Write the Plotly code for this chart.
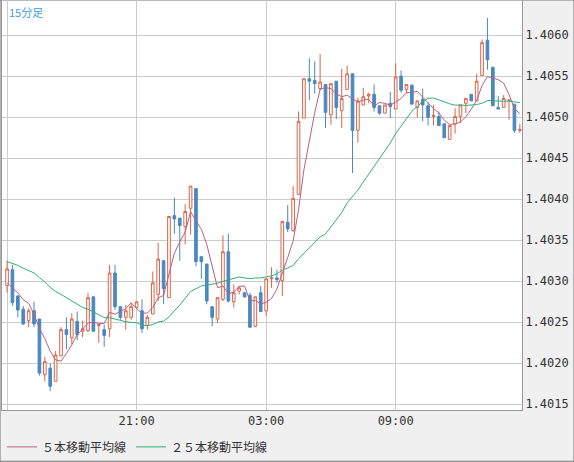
import plotly.graph_objs as go
import pandas as pd

# 15-minute candles, prices given as pips above 1.4000
times = pd.date_range('2024-01-01 15:00', periods=96, freq='15min')

open_pips = [29.5, 31.4, 28.2, 26.6, 25.2, 26.4, 25.4, 18.6, 19.4, 17.8,
             20.9, 24.1, 23.1, 25.1, 23.9, 24.0, 28.1, 24.6, 24.1, 24.2,
             31.0, 26.9, 25.6, 25.6, 26.8, 26.4, 24.6, 26.0, 28.4, 32.5,
             28.0, 38.0, 37.7, 36.7, 38.9, 41.3, 33.0, 32.1, 26.9, 25.4,
             27.8, 33.6, 27.5, 28.8, 28.6, 28.3, 24.5, 28.6, 26.4, 30.3,
             30.4, 30.1, 37.2, 36.2, 40.6, 49.9, 54.7, 54.5, 53.5, 54.0,
             50.3, 54.4, 50.8, 53.4, 55.3, 48.4, 51.5, 52.6, 52.8, 51.4,
             50.5, 51.7, 51.0, 55.0, 53.4, 53.9, 51.2, 52.2, 51.4, 50.1,
             50.1, 49.2, 47.3, 49.2, 50.1, 51.7, 52.8, 52.0, 55.1, 59.4,
             56.1, 51.2, 51.2, 52.0, 51.6, 48.4]
high_pips = [32.5, 32.0, 28.3, 27.0, 26.7, 27.5, 25.4, 20.8, 20.0, 21.5,
             24.4, 25.6, 26.1, 26.3, 25.2, 28.6, 28.1, 24.7, 24.7, 32.0,
             32.0, 26.9, 27.1, 27.4, 27.6, 27.8, 25.9, 31.2, 34.7, 32.6,
             37.9, 40.2, 37.7, 39.4, 41.6, 41.3, 33.0, 32.1, 26.9, 28.0,
             35.6, 35.8, 29.6, 29.4, 28.7, 28.6, 28.1, 29.4, 30.3, 31.7,
             31.4, 37.3, 39.3, 41.6, 50.7, 54.7, 57.2, 56.8, 57.7, 54.0,
             54.1, 54.4, 55.9, 56.3, 55.3, 52.4, 53.6, 53.0, 54.0, 51.4,
             51.5, 53.1, 56.6, 55.7, 54.0, 54.0, 52.0, 53.5, 51.8, 51.5,
             50.7, 49.2, 49.0, 51.1, 51.5, 52.3, 52.8, 55.3, 59.5, 62.1,
             56.1, 52.6, 52.7, 52.1, 51.6, 49.2]
low_pips = [28.6, 27.0, 25.6, 24.7, 24.4, 24.4, 18.5, 17.8, 16.6, 17.8,
            20.9, 21.7, 22.3, 22.8, 23.2, 23.8, 23.9, 22.5, 22.0, 23.2,
            26.5, 25.3, 24.1, 25.3, 26.7, 23.7, 24.1, 26.0, 27.6, 27.2,
            28.0, 35.8, 32.5, 34.5, 35.7, 31.8, 30.3, 27.2, 24.5, 24.9,
            27.6, 27.4, 26.8, 28.4, 28.0, 24.3, 24.4, 26.3, 25.8, 29.2,
            29.8, 28.2, 36.0, 36.0, 40.6, 49.9, 52.1, 52.9, 53.3, 48.7,
            49.1, 49.8, 48.7, 53.4, 43.2, 46.9, 51.5, 51.7, 50.7, 50.3,
            50.5, 49.9, 51.0, 53.0, 52.9, 51.6, 50.0, 49.5, 49.0, 49.0,
            49.0, 47.5, 47.3, 48.0, 49.3, 50.5, 52.0, 52.0, 55.1, 55.8,
            51.4, 51.0, 51.2, 49.7, 48.1, 48.1]
close_pips = [31.5, 27.4, 26.5, 24.8, 26.4, 24.8, 18.8, 20.2, 17.2, 21.0,
              24.1, 23.5, 25.4, 23.5, 24.2, 28.0, 23.9, 24.7, 23.4, 31.0,
              26.9, 25.6, 26.4, 26.9, 27.5, 24.2, 25.6, 29.8, 32.7, 29.1,
              37.9, 37.6, 36.8, 38.5, 41.6, 32.4, 32.4, 27.6, 25.6, 28.0,
              33.6, 27.6, 28.6, 29.2, 28.1, 24.4, 28.1, 26.3, 30.3, 30.4,
              30.2, 37.3, 36.4, 40.1, 49.5, 54.7, 54.4, 54.1, 54.3, 50.6,
              54.1, 51.2, 52.3, 55.3, 48.4, 52.0, 52.5, 52.8, 51.2, 50.5,
              51.5, 51.3, 54.9, 53.3, 54.0, 51.6, 52.0, 51.5, 50.0, 50.2,
              49.0, 47.5, 49.0, 50.1, 51.5, 52.3, 52.0, 54.4, 59.1, 57.0,
              51.4, 51.0, 52.3, 52.1, 48.4, 48.5]
# closes before the visible window (for the moving averages)
prev_close_pips = [32.5, 33.0, 33.5, 33.0, 32.5, 33.0, 33.5, 34.0, 33.5, 33.0,
                   33.5, 34.0, 34.5, 34.0, 33.5, 33.0, 32.5, 32.0, 31.5, 31.0,
                   30.5, 29.5, 29.0, 28.5]

tick_times = ['2024-01-01 15:00', '2024-01-01 21:00', '2024-01-02 03:00', '2024-01-02 09:00']
tick_text = ['', '21:00', '03:00', '09:00']
y_ticks = [1.4015, 1.4020, 1.4025, 1.4030, 1.4035, 1.4040, 1.4045, 1.4050, 1.4055, 1.4060]


def to_price(p):
    return [1.4 + v / 10000 for v in p]


all_close = pd.Series(to_price(prev_close_pips + close_pips))
ma5 = all_close.rolling(5).mean().iloc[len(prev_close_pips):].values
ma25 = all_close.rolling(25, min_periods=1).mean().iloc[len(prev_close_pips):].values

fig = go.Figure()

fig.add_trace(go.Candlestick(
    x=times, open=to_price(open_pips), high=to_price(high_pips),
    low=to_price(low_pips), close=to_price(close_pips),
    increasing=dict(line=dict(color='#dc6446', width=1), fillcolor='white'),
    decreasing=dict(line=dict(color='#4a88c0', width=1), fillcolor='#4a88c0'),
    whiskerwidth=0, showlegend=False, hoverinfo='skip'
))

fig.add_trace(go.Scatter(
    x=times, y=ma5, mode='lines', name='５本移動平均線',
    line=dict(color='#b9607f', width=1)
))
fig.add_trace(go.Scatter(
    x=times, y=ma25, mode='lines', name='２５本移動平均線',
    line=dict(color='#2fb176', width=1)
))

fig.update_layout(
    width=574, height=462,
    margin=dict(l=2, r=52, t=0, b=52, autoexpand=False),
    paper_bgcolor='#f0f0f0',
    plot_bgcolor='white',
    font=dict(family='Noto Sans CJK JP', size=12, color='#333'),
    showlegend=True,
    legend=dict(orientation='h', x=0.0, y=-0.09, xanchor='left', yanchor='middle',
                bgcolor='rgba(0,0,0,0)', font=dict(size=12, color='#333')),
    annotations=[dict(text='15分足', xref='paper', yref='paper', x=0.01, y=0.995,
                      xanchor='left', yanchor='top', showarrow=False,
                      font=dict(size=11, color='#3a9ee0'))],
    shapes=[dict(type='rect', xref='paper', yref='paper',
                 x0=-0.0038, x1=1.1, y0=-0.125, y1=1.0,
                 line=dict(color='#777', width=1), layer='below')],
)

fig.update_xaxes(
    automargin=False,
    rangeslider=dict(visible=False),
    range=['2024-01-01 14:46', '2024-01-02 14:51'],
    tickvals=tick_times, ticktext=tick_text,
    showgrid=True, gridcolor='#cccccc', gridwidth=1,
    showline=True, linecolor='#999', mirror=True,
    ticks='', tickfont=dict(family='DejaVu Sans Mono', size=12, color='#333'),
    zeroline=False
)
fig.update_yaxes(
    automargin=False,
    side='right', range=[1.40143, 1.40643],
    tickvals=y_ticks, tickformat='.4f',
    showgrid=True, gridcolor='#cccccc', gridwidth=1,
    showline=True, linecolor='#999', mirror=True,
    ticks='', tickfont=dict(family='DejaVu Sans Mono', size=12, color='#333'),
    zeroline=False
)

fig.write_html('out.html', config={'displayModeBar': False},
               post_script="document.body.style.margin='0';")
